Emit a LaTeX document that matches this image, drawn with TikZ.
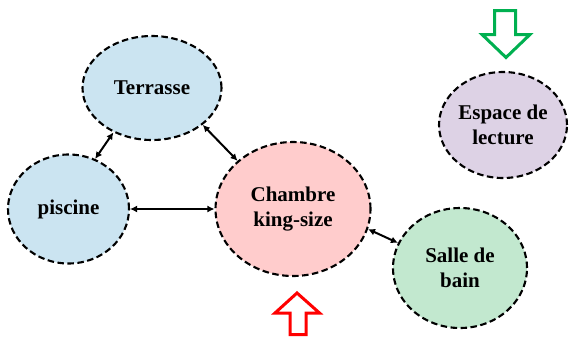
\documentclass[tikz,border=0pt]{standalone}
\usepackage{fontspec}
\setmainfont{Liberation Serif}
\usetikzlibrary{shapes.geometric,arrows.meta}
\definecolor{cblue}{RGB}{203,228,241}
\definecolor{cpink}{RGB}{255,204,204}
\definecolor{cgreen}{RGB}{194,232,207}
\definecolor{cpurple}{RGB}{221,210,229}
\definecolor{cred}{RGB}{255,0,0}
\definecolor{cgreenarrow}{RGB}{0,176,80}
\tikzset{
  room/.style={ellipse, draw=black, line width=2.1pt, dash pattern=on 6.5pt off 3.5pt,
    inner sep=0pt, align=center, font=\fontsize{21}{25}\selectfont\bfseries},
  link/.style={line width=2pt, {Latex[length=7pt,width=7pt]}-{Latex[length=7pt,width=7pt]}},
  blockarrow/.style={line width=3pt, fill=white, line join=miter}
}
\begin{document}
\begin{tikzpicture}[x=1pt,y=-1pt]
\useasboundingbox (0,0) rectangle (569,340);
\node[room, fill=cblue, minimum width=139pt, minimum height=104pt] (terrasse) at (152,88) {Terrasse};
\node[room, fill=cblue, minimum width=121pt, minimum height=109pt] (piscine) at (68.5,209) {piscine};
\node[room, fill=cpink, minimum width=155pt, minimum height=134pt] (chambre) at (293,209) {Chambre\\king-size};
\node[room, fill=cgreen, minimum width=134pt, minimum height=120pt] (salle) at (460,268) {Salle de\\bain};
\node[room, fill=cpurple, minimum width=128pt, minimum height=106pt] (espace) at (503,125) {Espace de\\lecture};
\draw[link] (terrasse.229) -- (piscine.62);
\draw[link] (terrasse.-36) -- (chambre.139);
\draw[link] (piscine.east) -- (chambre.west);
\draw[link] (chambre.-15) -- (salle.158);
% red hollow arrow (up)
\draw[blockarrow, draw=cred] (297,293) -- (319.5,313) -- (306,313) -- (306,334.5) -- (290,334.5) -- (290,313) -- (275,313) -- cycle;
% green hollow arrow (down)
\draw[blockarrow, draw=cgreenarrow] (506,57.5) -- (530,34.5) -- (515.5,34.5) -- (515.5,10.5) -- (494.5,10.5) -- (494.5,34.5) -- (482,34.5) -- cycle;
\end{tikzpicture}
\end{document}
